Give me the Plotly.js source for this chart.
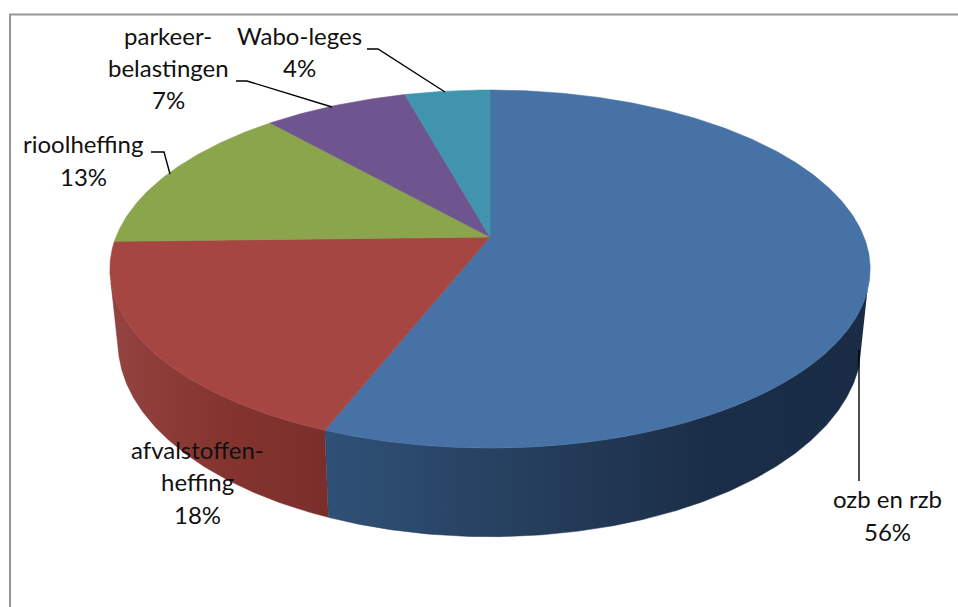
<!DOCTYPE html>
<html>
<head>
<meta charset="utf-8">
<script src="https://cdn.plot.ly/plotly-3.0.1.min.js"></script>
<style>html,body{margin:0;padding:0;background:#fff}#c{width:958px;height:607px}</style>
</head>
<body>
<div id="c"></div>
<script>
// --- data (wedge shares as drawn, percent of the circle) ---
var categories = ["ozb en rzb", "afvalstoffen-heffing", "rioolheffing", "parkeer-belastingen", "Wabo-leges"];
var shares = [56, 18.6, 13.8, 7.3, 4.3];
var percentLabels = ["56%", "18%", "13%", "7%", "4%"];

// --- styling ---
var topColors = ["#4672A6", "#A64643", "#8AA54C", "#6F5590", "#4094AE"];

// perspective model of the disc: angle measured clockwise from 12 o'clock
var k = 0.179;
var topDisc = {cx: 490, cy: 237, bx: 374, by: 173.3};
var baseDisc = {cx: 490, cy: 307, bx: 366, by: 188.6};
function pt(d, deg) {
  var a = deg * Math.PI / 180, s = Math.sin(a), c = Math.cos(a), q = 1 + k * c;
  return [d.cx + d.bx * s / q, d.cy - d.by * c / q];
}
function arc(d, a0, a1) {
  var out = [], n = Math.max(2, Math.ceil(Math.abs(a1 - a0) * 2));
  for (var i = 0; i <= n; i++) out.push(pt(d, a0 + (a1 - a0) * i / n));
  return out;
}
var edges = [0];
shares.forEach(function (v) { edges.push(edges[edges.length - 1] + v * 3.6); });

var silhouetteRight = 107, silhouetteLeft = 255.4;
var traces = [];
function poly(points, extra) {
  var t = {
    x: points.map(function (p) { return p[0]; }),
    y: points.map(function (p) { return p[1]; }),
    mode: "lines", fill: "toself", hoverinfo: "skip", showlegend: false
  };
  for (var key in extra) t[key] = extra[key];
  traces.push(t);
}
// side walls: the front of the first two slices
var wallSpans = [[silhouetteRight, edges[1]], [edges[1], silhouetteLeft]];
var wallScales = [
  [[0, "#2F5177"], [0.35, "#26405F"], [0.7, "#1B2E47"], [1, "#1A2C45"]],
  [[0, "#944340"], [0.5, "#85352F"], [1, "#7A2E2B"]]
];
var wallEdge = ["#22385A", "#85352F"];
wallSpans.forEach(function (span, i) {
  var pts = arc(topDisc, span[0], span[1]).concat(arc(baseDisc, span[1], span[0]));
  var xs = pts.map(function (p) { return p[0]; });
  poly(pts, {
    line: {width: 0.5, color: wallEdge[i]},
    fillgradient: {
      type: "horizontal",
      start: Math.min.apply(null, xs), stop: Math.max.apply(null, xs),
      colorscale: wallScales[i]
    }
  });
});
// top face
shares.forEach(function (v, i) {
  var pts = [[topDisc.cx, topDisc.cy]].concat(arc(topDisc, edges[i], edges[i + 1]));
  pts.push([topDisc.cx, topDisc.cy]);
  poly(pts, {name: categories[i], fillcolor: topColors[i], line: {width: 0.6, color: topColors[i]}});
});

// labels, one annotation per line for the reference's open leading
var labelLayout = [
  {x: 887, lines: [["ozb en rzb", 498]], pct: 531},
  {x: 197, lines: [["afvalstoffen-", 449], ["heffing", 481]], pct: 514},
  {x: 83,  lines: [["rioolheffing", 143]], pct: 176},
  {x: 168, lines: [["parkeer-", 35], ["belastingen", 67]], pct: 99},
  {x: 299, lines: [["Wabo-leges", 35]], pct: 67}
];
var font = {family: "Lato, Carlito, sans-serif", size: 24, color: "#111"};
var annotations = [];
function note(text, x, y) {
  annotations.push({text: text, x: x, y: y, xref: "x", yref: "y", showarrow: false,
    xanchor: "center", yanchor: "middle", font: font});
}
labelLayout.forEach(function (l, i) {
  l.lines.forEach(function (ln) { note(ln[0], l.x, ln[1]); });
  note(percentLabels[i], l.x, l.pct);
});

var leaders = ["M859,350 L859,481", "M151,152 L164,152 L170,174", "M236,81 L247,81 L332,107", "M367,49 L378,49 L445,92"];
var shapes = leaders.map(function (p) {
  return {type: "path", path: p, xref: "x", yref: "y", line: {color: "#000", width: 1.4}, layer: "above"};
});
// chart frame: top and left edges
shapes.push({type: "path", path: "M10,607 L10,14.5 L958,14.5", xref: "x", yref: "y", line: {color: "#979797", width: 2}});

var axis = {visible: false, fixedrange: true, showgrid: false, zeroline: false};
Plotly.newPlot("c", traces, {
  width: 958, height: 607,
  margin: {l: 0, r: 0, t: 0, b: 0},
  paper_bgcolor: "#fff", plot_bgcolor: "#fff",
  showlegend: false,
  xaxis: Object.assign({range: [0, 958]}, axis),
  yaxis: Object.assign({range: [607, 0]}, axis),
  annotations: annotations,
  shapes: shapes
}, {staticPlot: true, displayModeBar: false});
</script>
</body>
</html>
